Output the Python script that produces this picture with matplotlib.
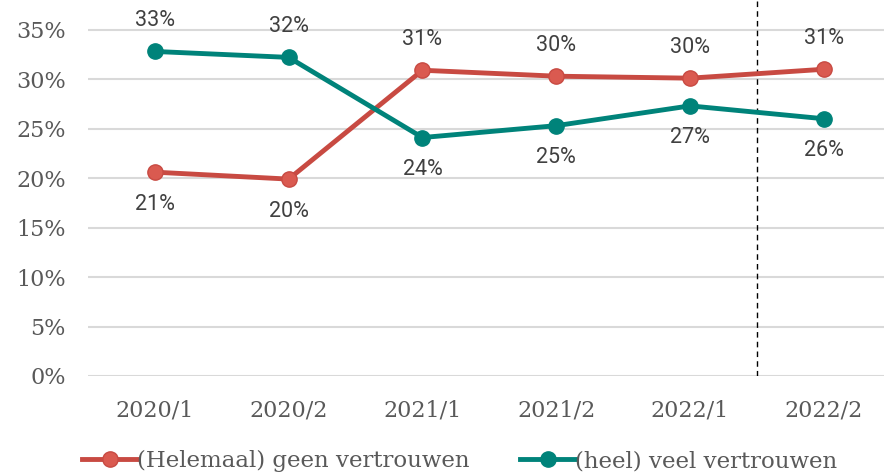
import matplotlib.pyplot as plt
import numpy as np

periods = ["2020/1", "2020/2", "2021/1", "2021/2", "2022/1", "2022/2"]
geen = [20.6, 19.9, 30.9, 30.3, 30.1, 31.0]
veel = [32.8, 32.2, 24.1, 25.3, 27.3, 26.0]
geen_labels = ["21%", "20%", "31%", "30%", "30%", "31%"]
veel_labels = ["33%", "32%", "24%", "25%", "27%", "26%"]
geen_above = [False, False, True, True, True, True]

red = '#C84A42'
red_marker = '#DA5A50'
green = '#00837A'
text_col = '#404040'
tick_col = '#595959'

fig = plt.figure(figsize=(8.84, 4.74), dpi=100)
ax = fig.add_axes([88 / 884, 1 - 376 / 474, 796 / 884, 376 / 474])

x = np.arange(len(periods))
ax.plot(x, geen, color=red, linewidth=3.5, marker='o', markersize=11,
        markerfacecolor=red_marker, markeredgecolor=red,
        label='(Helemaal) geen vertrouwen', zorder=3)
ax.plot(x, veel, color=green, linewidth=3.5, marker='o', markersize=11,
        markerfacecolor=green, markeredgecolor=green,
        label='(heel) veel vertrouwen', zorder=3)

for i in range(len(periods)):
    up = geen_above[i]
    ax.annotate(geen_labels[i], (x[i], geen[i]), xytext=(0, 22 if up else -23),
                textcoords='offset points', ha='center', va='center',
                fontsize=15.5, color=text_col, family='Roboto')
    ax.annotate(veel_labels[i], (x[i], veel[i]), xytext=(0, -23 if up else 22),
                textcoords='offset points', ha='center', va='center',
                fontsize=15.5, color=text_col, family='Roboto')

ax.axvline(4.5, color='black', linestyle=(0, (4, 3)), linewidth=1, zorder=2)

ax.set_xlim(-0.5, 5.45)
ax.set_ylim(0, 38)
ax.set_yticks(np.arange(0, 36, 5))
ax.set_yticklabels([f"{v}%" for v in range(0, 36, 5)])
ax.set_xticks(x)
ax.set_xticklabels(periods)
ax.grid(axis='y', color='#D9D9D9', linewidth=1.5, zorder=0)
ax.set_axisbelow(True)
for s in ax.spines.values():
    s.set_visible(False)
ax.tick_params(length=0, labelsize=16, labelcolor=tick_col, pad=17)
ax.tick_params(axis='y', pad=16)
for lbl in ax.get_xticklabels() + ax.get_yticklabels():
    lbl.set_family('DejaVu Serif')

leg = fig.legend(loc='lower center', bbox_to_anchor=(0.52, -0.04), ncol=2,
                 frameon=False, handlelength=2.4, columnspacing=2.2,
                 handletextpad=0.0, prop={'family': 'DejaVu Serif', 'size': 16.5})
for t in leg.get_texts():
    t.set_color(tick_col)

fig.savefig('out.png', dpi=100)
